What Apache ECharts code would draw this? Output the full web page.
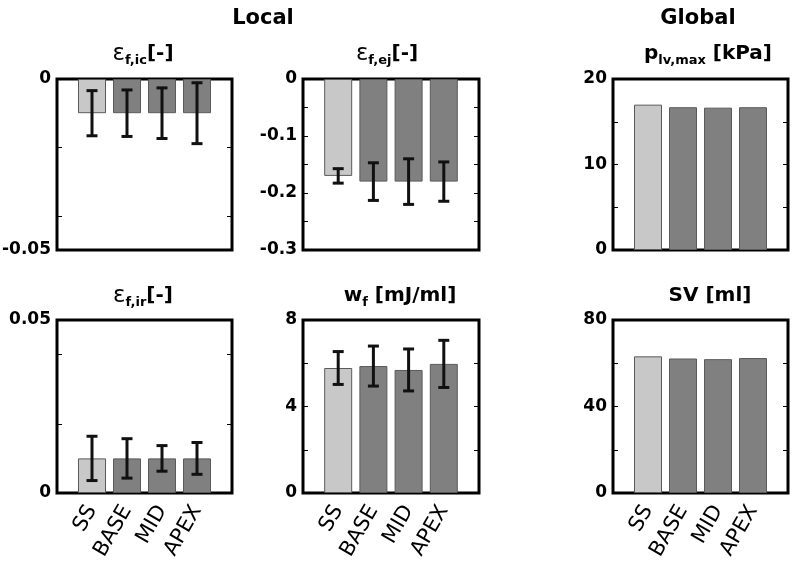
<!DOCTYPE html>
<html><head><meta charset="utf-8">
<script src="https://cdn.jsdelivr.net/npm/echarts@6/dist/echarts.min.js"></script>
<style>html,body{margin:0;padding:0;background:#fff}#c{width:795px;height:571px}</style>
</head><body><div id="c"></div>
<script>
// ---- data ----
const categories = ['SS', 'BASE', 'MID', 'APEX'];
const ef_ic_mean = [-0.010, -0.010, -0.010, -0.010];
const ef_ic_sd   = [0.0066, 0.0068, 0.0074, 0.0089];
const ef_ej_mean = [-0.170, -0.180, -0.180, -0.180];
const ef_ej_sd   = [0.0127, 0.033, 0.040, 0.0345];
const p_lv_max   = [17.0, 16.7, 16.65, 16.7];
const ef_ir_mean = [0.010, 0.010, 0.010, 0.010];
const ef_ir_sd   = [0.0064, 0.0057, 0.0037, 0.0046];
const wf_mean    = [5.78, 5.87, 5.69, 5.97];
const wf_sd      = [0.76, 0.925, 0.97, 1.09];
const sv_ml      = [63.2, 62.2, 61.9, 62.4];

const ef_ic_ticks = {labels: [-0.05, 0], minor: [-0.04, -0.02]};
const ef_ej_ticks = {labels: [-0.3, -0.2, -0.1, 0], minor: [-0.25, -0.2, -0.15, -0.1, -0.05]};
const p_lv_ticks  = {labels: [0, 10, 20], minor: [5, 10, 15]};
const ef_ir_ticks = {labels: [0, 0.05], minor: [0.02, 0.04]};
const wf_ticks    = {labels: [0, 4, 8], minor: [2, 4, 6]};
const sv_ticks    = {labels: [0, 40, 80], minor: [20, 40, 60]};

const FONT = 'DejaVu Sans';
const LIGHT = '#c8c8c8', DARK = '#808080';

const panels = [
  {mean: ef_ic_mean, sd: ef_ic_sd, min: -0.05, max: 0, ticks: ef_ic_ticks, cat: false,
   left: 57, top: 79, width: 175, height: 171,
   title: '{e|ε}{s|f,ic}{b|[-]}', tx: 143, ty: 41},
  {mean: ef_ej_mean, sd: ef_ej_sd, min: -0.3, max: 0, ticks: ef_ej_ticks, cat: false,
   left: 303, top: 79, width: 176, height: 171,
   title: '{e|ε}{s|f,ej}{b|[-]}', tx: 387, ty: 41},
  {mean: p_lv_max, sd: null, min: 0, max: 20, ticks: p_lv_ticks, cat: false,
   left: 613, top: 79, width: 175, height: 171,
   title: '{m|p}{s|lv,max}{b| [kPa]}', tx: 708, ty: 41},
  {mean: ef_ir_mean, sd: ef_ir_sd, min: 0, max: 0.05, ticks: ef_ir_ticks, cat: true,
   left: 57, top: 320, width: 175, height: 173,
   title: '{e|ε}{s|f,ir}{b|[-]}', tx: 143, ty: 283},
  {mean: wf_mean, sd: wf_sd, min: 0, max: 8, ticks: wf_ticks, cat: true,
   left: 303, top: 320, width: 176, height: 173,
   title: '{m|w}{s|f}{b| [mJ/ml]}', tx: 400, ty: 283},
  {mean: sv_ml, sd: null, min: 0, max: 80, ticks: sv_ticks, cat: true,
   left: 613, top: 320, width: 175, height: 173,
   title: '{b|SV [ml]}', tx: 710, ty: 283}
];

const rich = {
  e: {fontFamily: FONT, fontSize: 23, fontWeight: 'normal', color: '#000', lineHeight: 26},
  m: {fontFamily: FONT, fontSize: 20, fontWeight: 'bold', color: '#000', lineHeight: 26},
  s: {fontFamily: FONT, fontSize: 13, fontWeight: 'bold', color: '#000', lineHeight: 14, verticalAlign: 'bottom'},
  b: {fontFamily: FONT, fontSize: 20, fontWeight: 'bold', color: '#000', lineHeight: 26}
};

const grid = [], xAxis = [], yAxis = [], series = [], title = [];
title.push({text: 'Local', left: 263, top: 8, padding: 0, textAlign: 'center',
  textStyle: {fontFamily: FONT, fontSize: 21, fontWeight: 'bold', color: '#000'}});
title.push({text: 'Global', left: 698, top: 8, padding: 0, textAlign: 'center',
  textStyle: {fontFamily: FONT, fontSize: 21, fontWeight: 'bold', color: '#000'}});

panels.forEach((p, i) => {
  grid.push({left: p.left, top: p.top, width: p.width, height: p.height, show: true,
    borderColor: '#000', borderWidth: 3, backgroundColor: '#fff', containLabel: false, outerBoundsMode: 'none'});
  xAxis.push({type: 'value', gridIndex: i, min: 0, max: 5, interval: 1,
    splitLine: {show: false}, axisLine: {show: false}, axisTick: {show: false},
    axisLabel: {show: p.cat, rotate: 60, margin: 14, fontFamily: FONT, fontSize: 21, color: '#000',
      formatter: v => categories[v - 1] || ''}});
  const yBase = {type: 'value', gridIndex: i, min: p.min, max: p.max,
    splitLine: {show: false}, axisLine: {show: false}};
  yAxis.push(Object.assign({}, yBase, {position: 'left',
    axisTick: {show: true, inside: true, length: 5, lineStyle: {color: '#000', width: 1}, customValues: p.ticks.minor},
    axisLabel: {show: true, margin: 6, fontFamily: FONT, fontSize: 17, fontWeight: 'bold', color: '#000',
      customValues: p.ticks.labels, formatter: v => String(v)}}));
  yAxis.push(Object.assign({}, yBase, {position: 'right',
    axisTick: {show: true, inside: true, length: 5, lineStyle: {color: '#000', width: 1}, customValues: p.ticks.minor},
    axisLabel: {show: false}}));
  series.push({type: 'bar', xAxisIndex: i, yAxisIndex: 2 * i, barWidth: 28,
    data: p.mean.map((v, k) => [k + 1, v]),
    itemStyle: {color: prm => prm.dataIndex === 0 ? LIGHT : DARK, borderColor: '#5a5a5a', borderWidth: 1},
    silent: true, animation: false, z: 2});
  if (p.sd) {
    series.push({type: 'custom', xAxisIndex: i, yAxisIndex: 2 * i, z: 5, animation: false, silent: true,
      data: p.mean.map((v, k) => [k + 1, v - p.sd[k], v + p.sd[k]]),
      encode: {x: 0, y: [1, 2]},
      renderItem: (params, api) => {
        const x = api.value(0), lo = api.value(1), hi = api.value(2);
        const a = api.coord([x, lo]), b = api.coord([x, hi]);
        const hw = 5.5;
        const style = {stroke: '#111', lineWidth: 3, fill: null};
        return {type: 'group', children: [
          {type: 'line', shape: {x1: a[0], y1: a[1], x2: b[0], y2: b[1]}, style},
          {type: 'line', shape: {x1: a[0] - hw, y1: a[1], x2: a[0] + hw, y2: a[1]}, style},
          {type: 'line', shape: {x1: b[0] - hw, y1: b[1], x2: b[0] + hw, y2: b[1]}, style}
        ]};
      }});
  }
  title.push({text: p.title, left: p.tx, top: p.ty, padding: 0, textAlign: 'center', textStyle: {rich}});
});

const chart = echarts.init(document.getElementById('c'), null, {renderer: 'canvas'});
chart.setOption({backgroundColor: '#fff', animation: false, title, grid, xAxis, yAxis, series});
</script></body></html>
